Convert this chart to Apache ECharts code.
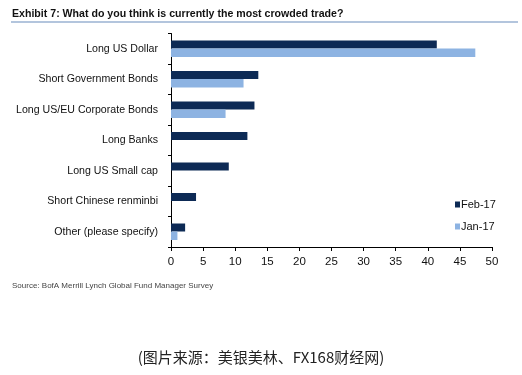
<!DOCTYPE html>
<html><head><meta charset="utf-8">
<script src="https://cdn.jsdelivr.net/npm/echarts@6/dist/echarts.min.js"></script>
<style>html,body{margin:0;padding:0;background:#fff}#c{width:522px;height:375px}</style>
</head><body><div id="c"></div>
<script>
const categories = ['Long US Dollar','Short Government Bonds','Long US/EU Corporate Bonds','Long Banks','Long US Small cap','Short Chinese renminbi','Other (please specify)'];
const feb17 = [41.4, 13.6, 13.0, 11.9, 9.0, 3.9, 2.2];
const jan17 = [47.4, 11.3, 8.5, null, null, null, 1.0];
const xTicks = [0, 5, 10, 15, 20, 25, 30, 35, 40, 45, 50];
const seriesNames = ['Feb-17', 'Jan-17'];

const narrow = "'Liberation Sans Narrow','Arial Narrow','Liberation Sans',Arial,sans-serif";
const chart = echarts.init(document.getElementById('c'));
chart.setOption({
  animation: false,
  backgroundColor: '#fff',
  title: [{
    text: 'Exhibit 7: What do you think is currently the most crowded trade?',
    left: 12, top: 9, padding: 0,
    textStyle: {fontFamily: narrow, fontWeight: 'bold', fontSize: 10.6, color: '#111'}
  }, {
    text: 'Source: BofA Merrill Lynch Global Fund Manager Survey',
    left: 12, top: 282, padding: 0,
    textStyle: {fontFamily: narrow, fontWeight: 'normal', fontSize: 8, color: '#444'}
  }, {
    text: '(图片来源：美银美林、FX168财经网)',
    left: 'center', top: 350, padding: 0,
    textStyle: {fontFamily: "'Noto Sans CJK SC',sans-serif", fontWeight: 'normal', fontSize: 15, color: '#222'}
  }],
  graphic: [{
    type: 'line', shape: {x1: 11, y1: 22, x2: 518, y2: 22},
    style: {stroke: '#b3c5dd', lineWidth: 2}
  }],
  legend: {
    data: seriesNames, orient: 'vertical', left: 455, top: 199, itemGap: 11, padding: 0,
    itemWidth: 5, itemHeight: 6, icon: 'rect',
    textStyle: {fontFamily: narrow, fontSize: 11, color: '#111', padding: [0,0,0,-4]}
  },
  grid: {left: 171, right: 30, top: 33.5, bottom: 128, containLabel: false, outerBoundsMode: 'none'},
  xAxis: {
    type: 'value', min: 0, max: 50, interval: 5,
    axisLine: {show: true, lineStyle: {color: '#000', width: 1}},
    axisTick: {show: true, length: 4, lineStyle: {color: '#000'}},
    axisLabel: {fontFamily: narrow, fontSize: 11.5, color: '#111', margin: 9,
      formatter: v => xTicks.includes(v) ? String(v) : ''},
    splitLine: {show: false}
  },
  yAxis: {
    type: 'category', data: categories, inverse: true,
    axisLine: {show: true, lineStyle: {color: '#000', width: 1}},
    axisTick: {show: true, length: 3, lineStyle: {color: '#000'}},
    axisLabel: {fontFamily: narrow, fontSize: 10.6, color: '#111', margin: 13}
  },
  series: [{
    name: seriesNames[0], type: 'bar', data: feb17,
    itemStyle: {color: '#0d2a55'}, barWidth: 8, barGap: '0%', barCategoryGap: '44%'
  }, {
    name: seriesNames[1], type: 'bar', data: jan17,
    itemStyle: {color: '#8db3e2'}, barWidth: 8.5
  }]
});
</script></body></html>
